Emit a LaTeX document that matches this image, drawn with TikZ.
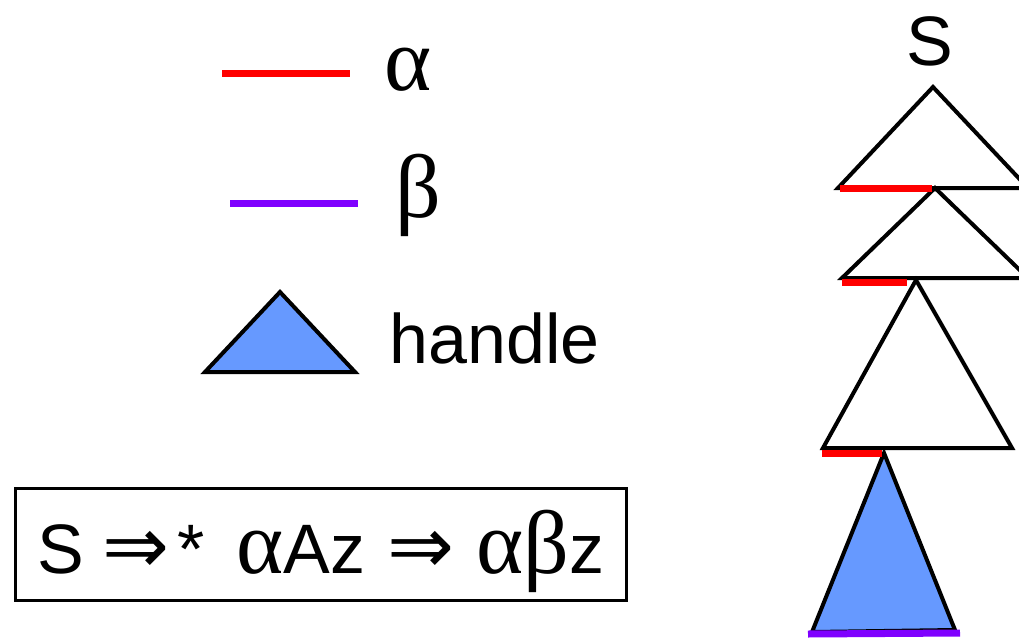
\documentclass[tikz,border=0pt]{standalone}
\usepackage{fontspec}
\setmainfont{Liberation Sans}
\newfontfamily\greekfont{Liberation Serif}
\newfontfamily\arrowfont{DejaVu Sans}
\usetikzlibrary{positioning}
\definecolor{alphared}{HTML}{FF0000}
\definecolor{betaviolet}{HTML}{7F00FF}
\definecolor{handleblue}{HTML}{6699FF}
\newcommand{\gr}[1]{{\greekfont\fontsize{45}{50}\selectfont #1}}
\newcommand{\darrow}{{\arrowfont\fontsize{40}{45}\selectfont ⇒}}
\tikzset{
  tri/.style={draw=black, line width=2pt, fill=white},
  handletri/.style={tri, fill=handleblue},
  alphaline/.style={draw=alphared, line width=3.5pt},
  betaline/.style={draw=betaviolet, line width=3.5pt},
  lbl/.style={inner sep=0pt, font=\fontsize{35}{42}\selectfont},
  derivbox/.style={draw=black, line width=1.6pt, minimum width=305.5pt,
                   minimum height=56pt, text height=28.5pt, text depth=0pt,
                   inner sep=0pt, font=\fontsize{35}{42}\selectfont},
}

\begin{document}
\begin{tikzpicture}[x=0.5pt, y=-0.5pt]
  \clip (0,0) rectangle (1019,638);
  % legend
  \draw[alphaline] (222,73) -- (350,73);
  \node[lbl, anchor=base west] (alab) at (384,90) {\gr{α}};
  \draw[betaline] (230,203) -- (358,203);
  \node[lbl, anchor=base west] (blab) at (395,217) {\gr{β}};
  \draw[handletri] (280,292) -- (355,372) -- (205,372) -- cycle;
  \node[lbl, anchor=base west] (hlab) at (389,363) {handle};
  % derivation
  \node[derivbox] (deriv) at (321,544.5)
    {S\hspace{9pt}\darrow\hspace{4pt}*\hspace{16pt}\gr{α}Az\hspace{11pt}\darrow\hspace{11pt}\gr{αβ}z};
  % tree
  \node[lbl, anchor=base] (root) at (930,65) {S};
  \draw[tri] (933,87) -- (1028,188) -- (838,188) -- cycle;
  \draw[tri] (935,188) -- (1028,278) -- (842,278) -- cycle;
  \draw[tri] (916,280) -- (1012,448) -- (823,448) -- cycle;
  \draw[handletri] (884,453) -- (955,630) -- (812,632) -- cycle;
  \draw[alphaline] (840,188) -- (932,188);
  \draw[alphaline] (842,282) -- (907,282);
  \draw[alphaline] (822,453) -- (882,453);
  \draw[betaline] (808,634) -- (960,633);
\end{tikzpicture}
\end{document}
